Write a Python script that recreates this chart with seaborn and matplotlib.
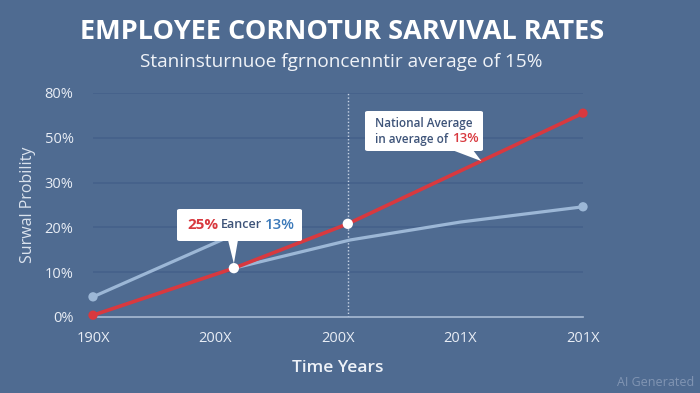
import numpy as np
import matplotlib
matplotlib.use("Agg")
import matplotlib.pyplot as plt
from matplotlib.patches import FancyBboxPatch, Polygon
import seaborn as sns

# --- Data ---
year_labels = ['190X', '200X', '200X', '201X', '201X']
year_pos = [0, 1, 2, 3, 4]
pct_ticks = [0, 10, 20, 30, 50, 80]
pct_labels = ['0%', '10%', '20%', '30%', '50%', '80%']

red_x = [0.0, 1.15, 2.08, 4.0]
red_y = [0.4, 10.9, 20.8, 66.5]

blue_early_x = [0.0, 1.3]
blue_early_y = [4.5, 20.2]
blue_late_x = [1.15, 2.1, 3.0, 4.0]
blue_late_y = [10.9, 17.2, 21.2, 24.6]

highlight_x = [1.15, 2.08]
highlight_y = [10.9, 20.8]
split_year = 2.08

BG = '#4f6b91'
RED = '#d8393f'
LIGHT_BLUE = '#9cb7d6'
DARK_TEXT = '#3e5479'
MID_BLUE = '#3b79b9'

sns.set_theme(style='dark')
plt.rcParams['font.family'] = ['Open Sans', 'DejaVu Sans']

fig = plt.figure(figsize=(7, 3.93), dpi=100, facecolor=BG)
ax = fig.add_axes([93 / 700, 76 / 393, 490 / 700, 224 / 393])
ax.set_facecolor(BG)

# uneven percent axis -> evenly spaced ticks
positions = np.arange(len(pct_ticks))
ax.set_yscale('function', functions=(
    lambda v: np.interp(v, pct_ticks, positions),
    lambda p: np.interp(p, positions, pct_ticks)))

sns.lineplot(x=blue_early_x, y=blue_early_y, ax=ax, color=LIGHT_BLUE, lw=2.3, zorder=3)
sns.lineplot(x=blue_late_x, y=blue_late_y, ax=ax, color=LIGHT_BLUE, lw=2.3, zorder=3)
sns.lineplot(x=red_x, y=red_y, ax=ax, color=RED, lw=2.6, zorder=4)

sns.scatterplot(x=[blue_early_x[0], blue_late_x[-1]], y=[blue_early_y[0], blue_late_y[-1]],
                ax=ax, color=LIGHT_BLUE, s=45, edgecolor='none', zorder=5, clip_on=False)
sns.scatterplot(x=[red_x[0], red_x[-1]], y=[red_y[0], red_y[-1]],
                ax=ax, color=RED, s=45, edgecolor='none', zorder=5, clip_on=False)
sns.scatterplot(x=highlight_x, y=highlight_y, ax=ax, color='white', s=55,
                edgecolor='none', zorder=6, clip_on=False)

ax.axvline(split_year, color='#c8d4e6', ls=(0, (1, 1.5)), lw=1, zorder=2)

ax.set_xlim(0, 4)
ax.set_ylim(0, 80)
ax.set_xticks(year_pos)
ax.set_xticklabels(year_labels)
ax.set_yticks(pct_ticks)
ax.set_yticklabels(pct_labels)
ax.yaxis.grid(True, color='#45618a', lw=1.2)
ax.xaxis.grid(False)
for side in ['top', 'right', 'left']:
    ax.spines[side].set_visible(False)
ax.spines['bottom'].set_color('#a9bbd4')
ax.spines['bottom'].set_linewidth(1.2)
ax.tick_params(axis='y', colors='#e8edf5', labelsize=10.5, length=0, pad=14)
ax.tick_params(axis='x', colors='#e8edf5', labelsize=10.5, length=0, pad=10)

ax.set_xlabel('Time Years', color='#eef2f8', fontsize=12.5, fontweight='semibold', labelpad=10)
ax.set_ylabel('Surwal Probility', color='#dbe3ee', fontsize=11.5, labelpad=6)

# --- titles ---
fig.text(342 / 700, 1 - 32 / 393, 'EMPLOYEE CORNOTUR SARVIVAL RATES', ha='center', va='center',
         color='white', fontsize=19.5, fontweight='bold')
fig.text(341 / 700, 1 - 62 / 393, 'Staninsturnuoe fgrnoncenntir average of 15%', ha='center',
         va='center', color='#f0f3f8', fontsize=13.7)
fig.text(694 / 700, 1 - 383 / 393, 'AI Generated', ha='right', va='center',
         color='#8195b3', fontsize=9)


def px(x, y):
    return x / 700, 1 - y / 393


renderer = fig.canvas.get_renderer()


def rich_text(x, y, pieces, gap=3):
    # pieces: (text, color, size, weight), laid out left to right
    cur = x
    for txt, col, size, weight in pieces:
        t = fig.text(*px(cur, y), txt, color=col, fontsize=size, fontweight=weight,
                     va='center', ha='left', zorder=11)
        cur += t.get_window_extent(renderer).width + gap


def callout(x0, y0, w, h, base_l, base_r, target):
    # white box in pixel coords with a triangular pointer to a data point
    box = FancyBboxPatch(px(x0, y0 + h), w / 700, h / 393,
                         boxstyle='round,pad=0,rounding_size=0.004',
                         transform=fig.transFigure, fc='white', ec='none', zorder=10)
    fig.patches.append(box)
    tip = fig.transFigure.inverted().transform(ax.transData.transform(target))
    tri = Polygon([px(base_l, y0 + h - 1), px(base_r, y0 + h - 1), tip], closed=True,
                  transform=fig.transFigure, fc='white', ec='none', zorder=10)
    fig.patches.append(tri)


# --- callout 1 ---
callout(177, 209, 125, 32, 228, 238, (1.15, 11.9))
rich_text(187, 225, [('25%', RED, 11, 'bold'),
                     ('Eancer', DARK_TEXT, 9, 'semibold'),
                     ('13%', MID_BLUE, 10.8, 'semibold')])

# --- callout 2 ---
callout(365, 111, 118, 40, 452, 473, (3.17, 39.6))
fig.text(*px(375, 124), 'National Average', color=DARK_TEXT, fontsize=8.5,
         fontweight='semibold', va='center', zorder=11)
rich_text(375, 139, [('in average of', DARK_TEXT, 8.5, 'semibold'),
                     ('13%', RED, 9.5, 'semibold')], gap=4)

fig.savefig('out.png', dpi=100, facecolor=BG)
